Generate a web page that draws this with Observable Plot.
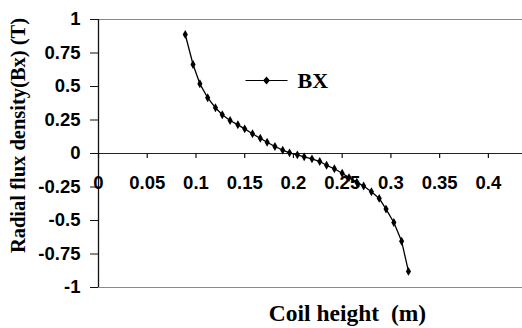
<!DOCTYPE html>
<html><head><meta charset="utf-8">
<script src="https://cdn.jsdelivr.net/npm/d3@7"></script>
<script src="https://cdn.jsdelivr.net/npm/@observablehq/plot@0.6"></script>
<style>html,body{margin:0;padding:0;background:#fff}</style>
</head><body><div id="chart"></div>
<script>
const coilHeight = [0.089, 0.097, 0.104, 0.112, 0.120, 0.127, 0.135, 0.143, 0.150, 0.158,
  0.166, 0.173, 0.181, 0.189, 0.196, 0.204, 0.211, 0.219, 0.227, 0.234,
  0.242, 0.250, 0.257, 0.265, 0.272, 0.280, 0.288, 0.295, 0.303, 0.311, 0.318];
const bx = [0.888, 0.664, 0.520, 0.416, 0.341, 0.289, 0.246, 0.214, 0.184, 0.147,
  0.114, 0.084, 0.052, 0.025, 0.005, -0.010, -0.025, -0.040, -0.060, -0.088,
  -0.114, -0.147, -0.180, -0.214, -0.243, -0.285, -0.335, -0.415, -0.515, -0.655, -0.880];
const xTicks = [0, 0.05, 0.1, 0.15, 0.2, 0.25, 0.3, 0.35, 0.4];
const yTicks = [-1, -0.75, -0.5, -0.25, 0, 0.25, 0.5, 0.75, 1];
const seriesName = "BX";
const xTitle = "Coil height  (m)";
const yTitle = "Radial flux density(Bx) (T)";

const data = coilHeight.map((x, i) => ({x, y: bx[i]}));
const serif = "'Liberation Serif', 'Times New Roman', serif";
const sans = "'Liberation Sans', Arial, sans-serif";

// legend glyph: line with a diamond marker
const legendGlyph = {
  draw(ctx) {
    ctx.moveTo(-21, 0); ctx.lineTo(21, 0);
    ctx.moveTo(0, -3); ctx.lineTo(2.6, 0); ctx.lineTo(0, 3); ctx.lineTo(-2.6, 0); ctx.closePath();
  }
};

const chart = Plot.plot({
  width: 522,
  height: 328,
  marginLeft: 98,
  marginRight: 0,
  marginTop: 19,
  marginBottom: 41,
  style: {fontFamily: sans, fontWeight: "bold", fontSize: "18px", color: "black", background: "white"},
  x: {domain: [0, 0.435], axis: null},
  y: {domain: [-1, 1]},
  marks: [
    Plot.ruleY([1], {stroke: "#8a8a8a", strokeWidth: 1.2}),
    Plot.ruleY([-1], {stroke: "#8a8a8a", strokeWidth: 1.2}),
    Plot.ruleY([0], {stroke: "#222", strokeWidth: 1.2}),
    Plot.ruleX([0], {stroke: "#111", strokeWidth: 1.3}),
    Plot.axisY(yTicks, {tickSize: 8, tickPadding: 10, tickFormat: d => String(d), fontSize: 18.5, fontWeight: "bold", label: null, stroke: "#111"}),
    Plot.ruleX(xTicks, {x: d => d, y1: () => 0, y2: () => 0, insetBottom: -5, stroke: "#111", strokeWidth: 1.2}),
    Plot.text(xTicks, {x: d => d, y: () => 0, dy: 30, text: d => String(d), fontSize: 18.5, fontWeight: "bold", fill: "black"}),
    Plot.line(data, {x: "x", y: "y", stroke: "black", strokeWidth: 1.3}),
    Plot.dot(data, {x: "x", y: "y", symbol: "diamond", r: 2.7, fill: "black", stroke: "none"}),
    Plot.dot([seriesName], {frameAnchor: "top-left", dx: 168, dy: 61, symbol: legendGlyph, fill: "black", stroke: "black", strokeWidth: 1.2}),
    Plot.text([seriesName], {frameAnchor: "top-left", dx: 199, dy: 61, text: d => d, textAnchor: "start", lineAnchor: "middle", fontFamily: serif, fontSize: 22, fontWeight: "bold", fill: "black"}),
    Plot.text([xTitle], {frameAnchor: "bottom", dx: 37, dy: 33, text: d => d, textAnchor: "middle", lineAnchor: "bottom", fontFamily: serif, fontSize: 23.5, fontWeight: "bold", fill: "black"}),
    Plot.text([yTitle], {frameAnchor: "left", dx: -80, dy: -18, rotate: -90, text: d => d, textAnchor: "middle", lineAnchor: "middle", fontFamily: serif, fontSize: 20.5, fontWeight: "bold", fill: "black"})
  ]
});
document.getElementById("chart").appendChild(chart);
</script>
</body></html>
